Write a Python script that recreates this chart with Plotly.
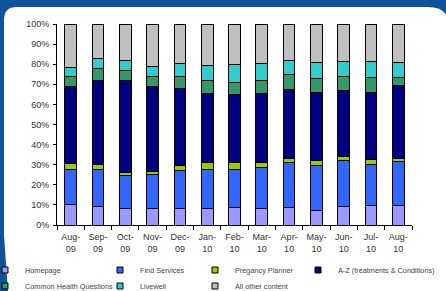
import plotly.graph_objects as go

months = ["Aug-09", "Sep-09", "Oct-09", "Nov-09", "Dec-09", "Jan-10", "Feb-10",
          "Mar-10", "Apr-10", "May-10", "Jun-10", "Jul-10", "Aug-10"]
tick_labels = ["Aug-<br>09", "Sep-<br>09", "Oct-<br>09", "Nov-<br>09", "Dec-<br>09", "Jan-<br>10", "Feb-<br>10",
               "Mar-<br>10", "Apr-<br>10", "May-<br>10", "Jun-<br>10", "Jul-<br>10", "Aug-<br>10"]

homepage = [10.3, 9.1, 8.0, 8.3, 8.3, 8.3, 8.5, 8.3, 8.8, 7.3, 9.1, 9.5, 9.6]
find_services = [17.4, 18.6, 16.4, 16.9, 18.6, 19.4, 19.2, 20.1, 22.2, 22.4, 22.9, 20.8, 21.9]
pregnancy_planner = [3.0, 2.5, 1.9, 1.4, 2.5, 3.3, 3.3, 2.6, 2.2, 2.3, 2.3, 2.1, 1.5]
a_to_z = [38.1, 41.9, 45.6, 42.2, 38.4, 34.2, 33.7, 34.2, 34.4, 33.7, 32.4, 33.3, 36.5]
common_health = [5.2, 5.9, 5.0, 5.2, 6.1, 6.5, 6.3, 6.8, 7.3, 7.4, 7.3, 7.9, 3.8]
livewell = [4.5, 4.9, 4.8, 5.0, 6.5, 7.9, 9.0, 8.4, 7.0, 7.9, 7.3, 7.5, 7.6]
other_content = [21.5, 17.1, 18.3, 21.0, 19.6, 20.4, 20.0, 19.6, 18.1, 19.0, 18.7, 18.9, 19.1]

series = [
    ("Homepage", homepage, "#9999FF"),
    ("Find Services", find_services, "#3366FF"),
    ("Pregancy Planner", pregnancy_planner, "#99CC00"),
    ("A-Z (treatments & Conditions)", a_to_z, "#000080"),
    ("Common Health Questions", common_health, "#339966"),
    ("Livewell", livewell, "#33CCCC"),
    ("All other content", other_content, "#C0C0C0"),
]

W, H = 446, 291
ML, MR, MT, MB = 57, 34, 24, 66
PW, PH = W - ML - MR, H - MT - MB

# legend entry text anchor positions (pixels) in a 4-column grid
legend_cells = [(25, 270), (140, 270), (235, 270), (338, 270),
                (25, 286), (140, 286), (235, 286)]
TEXT_OFFSET = 25

def px(x):
    return (x - ML) / PW

def py(y):
    return (H - MB - y) / PH

fig = go.Figure()
for name, vals, col in series:
    fig.add_trace(go.Bar(
        x=months, y=vals, name=name, legendgroup=name, showlegend=False,
        marker=dict(color=col, line=dict(color="#000000", width=1)),
    ))

legend_layout = {}
for i, (name, vals, col) in enumerate(series):
    key = "legend" if i == 0 else "legend%d" % (i + 1)
    fig.add_trace(go.Scatter(
        x=[None], y=[None], mode="markers", name=name, legendgroup=name,
        legend=key,
        marker=dict(symbol="square", size=6, color=col, line=dict(color="#000000", width=1)),
    ))
    cx, cy = legend_cells[i]
    legend_layout[key] = dict(
        xref="container", yref="container",
        x=max(cx - TEXT_OFFSET, 0) / W, y=1 - cy / H,
        xanchor="left", yanchor="middle",
        itemwidth=30, itemsizing="trace", indentation=-15,
        font=dict(size=7.3, color="#444444"),
        bgcolor="rgba(0,0,0,0)",
    )

# white rounded panel on a blue frame
path = "M {:.5f},{:.5f}".format(px(8), py(292))
path += " L {:.5f},{:.5f}".format(px(4), py(235))
path += " L {:.5f},{:.5f}".format(px(4), py(20))
path += " Q {:.5f},{:.5f} {:.5f},{:.5f}".format(px(4), py(7), px(17), py(7))
path += " L {:.5f},{:.5f}".format(px(428), py(7))
path += " Q {:.5f},{:.5f} {:.5f},{:.5f}".format(px(442), py(7), px(447), py(16))
path += " L {:.5f},{:.5f} Z".format(px(447), py(292))

fig.add_shape(type="path", xref="paper", yref="paper", path=path,
              fillcolor="#FFFFFF", line=dict(width=0), layer="below")

fig.update_layout(
    width=W, height=H,
    margin=dict(l=ML, r=MR, t=MT, b=MB, pad=0, autoexpand=False),
    paper_bgcolor="#10529A",
    plot_bgcolor="rgba(0,0,0,0)",
    barmode="stack",
    bargap=0.57,
    font=dict(family="Liberation Sans, Arial, sans-serif", size=9, color="#333333"),
    xaxis=dict(
        tickmode="array", tickvals=months, ticktext=tick_labels, tickangle=0,
        showline=True, linecolor="#000000", linewidth=1,
        ticks="outside", ticklen=4, tickcolor="#000000", tickson="boundaries",
        ticklabelstandoff=3,
        showgrid=False, zeroline=False, automargin=False,
    ),
    yaxis=dict(
        range=[0, 100], dtick=10, ticksuffix="%",
        showline=True, linecolor="#000000", linewidth=1,
        ticks="outside", ticklen=3, tickcolor="#000000",
        ticklabelstandoff=2,
        showgrid=False, zeroline=False, automargin=False,
    ),
    **legend_layout,
)

fig.write_html(
    "out.html",
    config={"displayModeBar": False},
    post_script="document.body.style.margin='0';document.body.style.padding='0';",
)
